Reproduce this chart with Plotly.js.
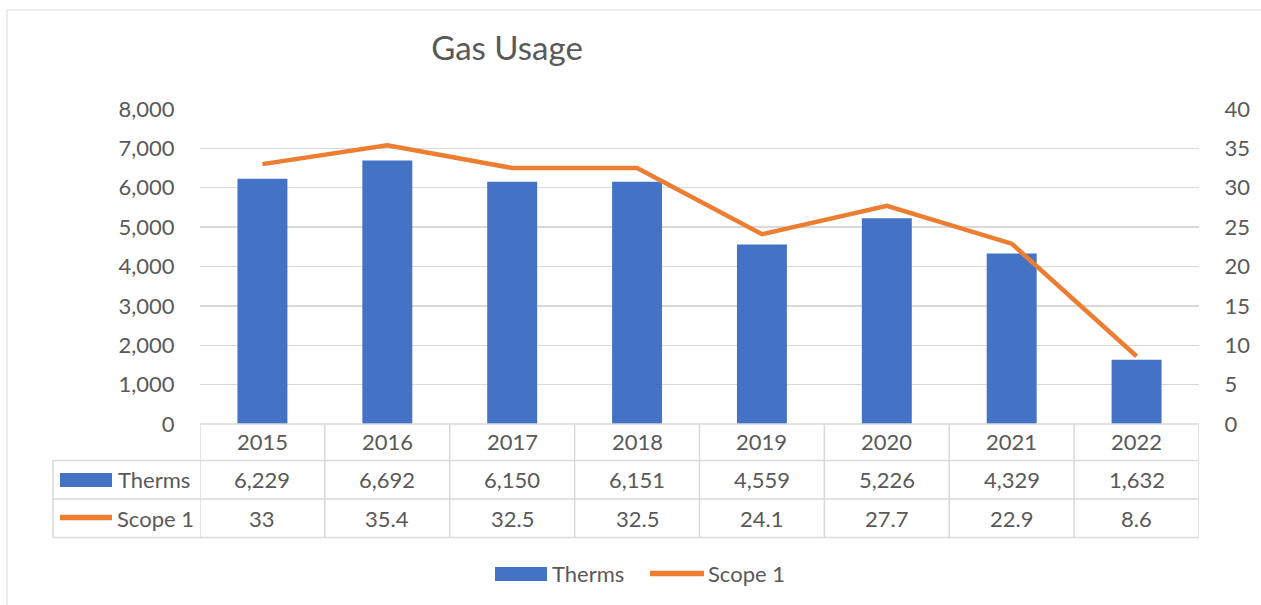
<!DOCTYPE html>
<html>
<head>
<meta charset="utf-8">
<script src="https://cdn.plot.ly/plotly-3.0.1.min.js"></script>
<style>html,body{margin:0;padding:0;background:#fff;}#chart{width:1261px;height:605px;}</style>
</head>
<body>
<div id="chart"></div>
<script>
const years = ['2015','2016','2017','2018','2019','2020','2021','2022'];
const therms = [6229, 6692, 6150, 6151, 4559, 5226, 4329, 1632];
const scope1 = [33, 35.4, 32.5, 32.5, 24.1, 27.7, 22.9, 8.6];
const seriesNames = ['Therms', 'Scope 1'];
const titleText = 'Gas Usage';

const W = 1261, H = 605;
const px = v => v / W;
const py = v => 1 - v / H;

const blue = '#4472C4', orange = '#ED7D31', grid = '#D9D9D9', txt = '#595959';
const FONT = 'Lato, "Open Sans", sans-serif';

const idx = years.map((_, i) => i);
const fmt = v => v.toLocaleString('en-US');

const traces = [
  {type: 'bar', x: idx, y: therms, name: seriesNames[0], marker: {color: blue}, width: 0.4, yaxis: 'y', showlegend: false, hoverinfo: 'x+y'},
  {type: 'scatter', mode: 'lines', x: idx, y: scope1, name: seriesNames[1], line: {color: orange, width: 4.5}, yaxis: 'y2', showlegend: false, cliponaxis: false}
];

const shapes = [];
const annotations = [];
const lineStyle = {color: grid, width: 1.5};
// outer chart border
shapes.push({type: 'rect', xref: 'paper', yref: 'paper', x0: px(7), x1: px(1275), y0: py(10), y1: py(620), line: {color: grid, width: 1}});
// table rows
const rowY = [424, 460.5, 499, 537.5];
shapes.push({type: 'line', xref: 'x', yref: 'paper', x0: -0.5, x1: years.length - 0.5, y0: py(rowY[0]), y1: py(rowY[0]), line: lineStyle});
for (let r = 1; r < rowY.length; r++) {
  shapes.push({type: 'line', xref: 'paper', yref: 'paper', x0: px(53), x1: px(1199), y0: py(rowY[r]), y1: py(rowY[r]), line: lineStyle});
}
shapes.push({type: 'line', xref: 'paper', yref: 'paper', x0: px(53), x1: px(53), y0: py(rowY[1]), y1: py(rowY[3]), line: lineStyle});
for (let i = 0; i <= years.length; i++) {
  shapes.push({type: 'line', xref: 'x', yref: 'paper', x0: i - 0.5, x1: i - 0.5, y0: py(rowY[0]), y1: py(rowY[3]), line: lineStyle});
}
const tfont = {family: FONT, size: 22, color: txt};
years.forEach((yr, i) => {
  annotations.push({xref: 'x', yref: 'paper', x: i, y: py(441), text: yr, showarrow: false, font: tfont, xanchor: 'center', yanchor: 'middle'});
  annotations.push({xref: 'x', yref: 'paper', x: i, y: py(479), text: fmt(therms[i]), showarrow: false, font: tfont, xanchor: 'center', yanchor: 'middle'});
  annotations.push({xref: 'x', yref: 'paper', x: i, y: py(518), text: String(scope1[i]), showarrow: false, font: tfont, xanchor: 'center', yanchor: 'middle'});
});
// table legend keys
shapes.push({type: 'rect', xref: 'paper', yref: 'paper', x0: px(60), x1: px(112), y0: py(473), y1: py(487), fillcolor: blue, line: {width: 0}});
shapes.push({type: 'line', xref: 'paper', yref: 'paper', x0: px(60), x1: px(112), y0: py(517.5), y1: py(517.5), line: {color: orange, width: 5.5}});
annotations.push({xref: 'paper', yref: 'paper', x: px(116), y: py(479), text: seriesNames[0], showarrow: false, font: tfont, xanchor: 'left', yanchor: 'middle'});
annotations.push({xref: 'paper', yref: 'paper', x: px(115), y: py(518), text: seriesNames[1], showarrow: false, font: tfont, xanchor: 'left', yanchor: 'middle'});
// bottom legend
shapes.push({type: 'rect', xref: 'paper', yref: 'paper', x0: px(495), x1: px(547), y0: py(567), y1: py(581), fillcolor: blue, line: {width: 0}});
shapes.push({type: 'line', xref: 'paper', yref: 'paper', x0: px(650), x1: px(704), y0: py(573.5), y1: py(573.5), line: {color: orange, width: 5.5}});
annotations.push({xref: 'paper', yref: 'paper', x: px(550), y: py(573), text: seriesNames[0], showarrow: false, font: tfont, xanchor: 'left', yanchor: 'middle'});
annotations.push({xref: 'paper', yref: 'paper', x: px(706), y: py(573), text: seriesNames[1], showarrow: false, font: tfont, xanchor: 'left', yanchor: 'middle'});

const layout = {
  width: W, height: H,
  margin: {l: 0, r: 0, t: 0, b: 0},
  paper_bgcolor: '#fff', plot_bgcolor: '#fff',
  font: {family: FONT, color: txt},
  title: {text: titleText, font: {family: FONT, size: 33, color: txt}, xref: 'paper', yref: 'paper', x: px(507), y: py(48), xanchor: 'center', yanchor: 'middle'},
  xaxis: {type: 'linear', domain: [px(200), px(1199)], range: [-0.5, years.length - 0.5], showticklabels: false, showgrid: false, zeroline: false, showline: false, ticks: '', fixedrange: true},
  yaxis: {domain: [py(424), py(109)], range: [0, 8000], dtick: 1000, tickformat: ',', showgrid: true, gridcolor: grid, gridwidth: 1.3, zeroline: false, showline: false, ticks: 'outside', ticklen: 20, tickcolor: 'rgba(0,0,0,0)', tickfont: {family: FONT, size: 22, color: txt}},
  yaxis2: {overlaying: 'y', side: 'right', range: [0, 40], dtick: 5, showgrid: false, zeroline: false, showline: false, ticks: 'outside', ticklen: 20, tickcolor: 'rgba(0,0,0,0)', tickfont: {family: FONT, size: 22, color: txt}},
  shapes: shapes,
  annotations: annotations,
  showlegend: false,
  bargap: 0.6
};
Plotly.newPlot('chart', traces, layout, {displayModeBar: false, staticPlot: true});
</script>
</body>
</html>
